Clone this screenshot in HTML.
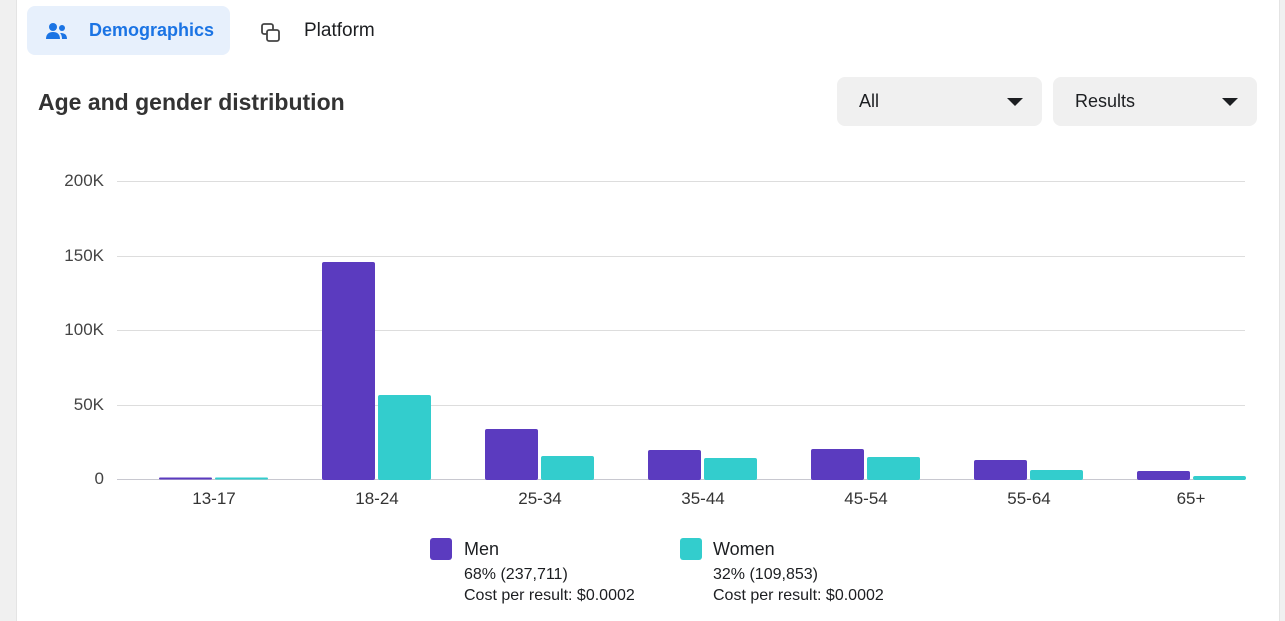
<!DOCTYPE html>
<html><head><style>
body{margin:0;width:1285px;height:621px;background:#f0f0f0;font-family:"Liberation Sans",Arial,sans-serif;overflow:hidden;position:relative}
.card{position:absolute;left:16px;top:0;width:1262px;height:621px;background:#fff;border-left:1px solid #e4e4e4;border-right:1px solid #e4e4e4}
.abs{position:absolute}
.dd{position:absolute;top:77px;height:49px;background:#f0f0f0;border-radius:8px;font-size:18px;color:#1c1e21}
.dd span{position:absolute;left:22px;top:14px}
.tri{position:absolute;top:21px;width:0;height:0;border-left:8px solid transparent;border-right:8px solid transparent;border-top:8px solid #1c1e21}
.yl{position:absolute;left:40px;width:64px;text-align:right;font-size:17px;color:#444}
.xl{position:absolute;top:489px;width:80px;text-align:center;font-size:17px;color:#333}
.lg{position:absolute;font-size:16px;color:#1c1e21;line-height:21px}
</style></head><body>
<div class="card"></div>
<div class="abs" style="left:27px;top:6px;width:203px;height:49px;background:#e7f0fc;border-radius:8px"></div>
<svg class="abs" style="left:45px;top:22px" width="24" height="18" viewBox="0 0 24 18"><circle cx="8" cy="5" r="4" fill="#1b74e4"/><circle cx="17" cy="6" r="3" fill="#1b74e4"/><path d="M1 17c0-5 3-7 7-7s7 2 7 7z" fill="#1b74e4"/><path d="M15 11c4 0 7 1 7 6h-5c0-3-1-5-2-6z" fill="#1b74e4"/></svg>
<div class="abs" style="left:89px;top:20px;font-size:18px;font-weight:bold;color:#1b74e4">Demographics</div>
<svg class="abs" style="left:260px;top:22px" width="22" height="22"><rect x="2" y="2" width="11" height="10" rx="2" fill="none" stroke="#444" stroke-width="1.8"/><rect x="7" y="8" width="12" height="11" rx="2" fill="#fff" stroke="#444" stroke-width="1.8"/></svg>
<div class="abs" style="left:304px;top:20px;font-size:19px;color:#1c1e21">Platform</div>
<div class="abs" style="left:38px;top:89px;font-size:23px;font-weight:bold;color:#333">Age and gender distribution</div>
<div class="dd" style="left:837px;width:205px"><span>All</span><div class="tri" style="left:170px"></div></div>
<div class="dd" style="left:1053px;width:204px"><span>Results</span><div class="tri" style="left:169px"></div></div>
<svg class="abs" style="left:0;top:0" width="1285" height="621">
<g stroke="#dddddd" stroke-width="1">
<line x1="117" x2="1245" y1="181.5" y2="181.5"/><line x1="117" x2="1245" y1="256.5" y2="256.5"/><line x1="117" x2="1245" y1="330.5" y2="330.5"/><line x1="117" x2="1245" y1="405.5" y2="405.5"/>
</g>
<line x1="117" x2="1245" y1="479.5" y2="479.5" stroke="#c8c8d0"/>
<g fill="#5b3bbf">
<rect x="159" y="477.5" width="53" height="2" rx="1"/>
<rect x="322" y="262" width="53" height="218" rx="2"/>
<rect x="485" y="429" width="53" height="51" rx="2"/>
<rect x="648" y="450" width="53" height="30" rx="2"/>
<rect x="811" y="449" width="53" height="31" rx="2"/>
<rect x="974" y="460" width="53" height="20" rx="2"/>
<rect x="1137" y="471" width="53" height="9" rx="2"/>
</g>
<g fill="#33cdcd">
<rect x="215" y="477.5" width="53" height="2" rx="1"/>
<rect x="378" y="395" width="53" height="85" rx="2"/>
<rect x="541" y="456" width="53" height="24" rx="2"/>
<rect x="704" y="458" width="53" height="22" rx="2"/>
<rect x="867" y="457" width="53" height="23" rx="2"/>
<rect x="1030" y="470" width="53" height="10" rx="2"/>
<rect x="1193" y="476" width="53" height="4" rx="2"/>
</g>
</svg>
<div class="yl" style="top:171px">200K</div>
<div class="yl" style="top:246px">150K</div>
<div class="yl" style="top:320px">100K</div>
<div class="yl" style="top:395px">50K</div>
<div class="yl" style="top:469px">0</div>
<div class="xl" style="left:174px">13-17</div>
<div class="xl" style="left:337px">18-24</div>
<div class="xl" style="left:500px">25-34</div>
<div class="xl" style="left:663px">35-44</div>
<div class="xl" style="left:826px">45-54</div>
<div class="xl" style="left:989px">55-64</div>
<div class="xl" style="left:1151px">65+</div>
<div class="abs" style="left:430px;top:538px;width:22px;height:22px;background:#5b3bbf;border-radius:3px"></div>
<div class="abs" style="left:680px;top:538px;width:22px;height:22px;background:#33cdcd;border-radius:3px"></div>
<div class="abs" style="left:464px;top:539px;font-size:18px;color:#1c1e21">Men</div>
<div class="abs" style="left:713px;top:539px;font-size:18px;color:#1c1e21">Women</div>
<div class="lg" style="left:464px;top:564px">68% (237,711)<br>Cost per result: $0.0002</div>
<div class="lg" style="left:713px;top:564px">32% (109,853)<br>Cost per result: $0.0002</div>
</body></html>
